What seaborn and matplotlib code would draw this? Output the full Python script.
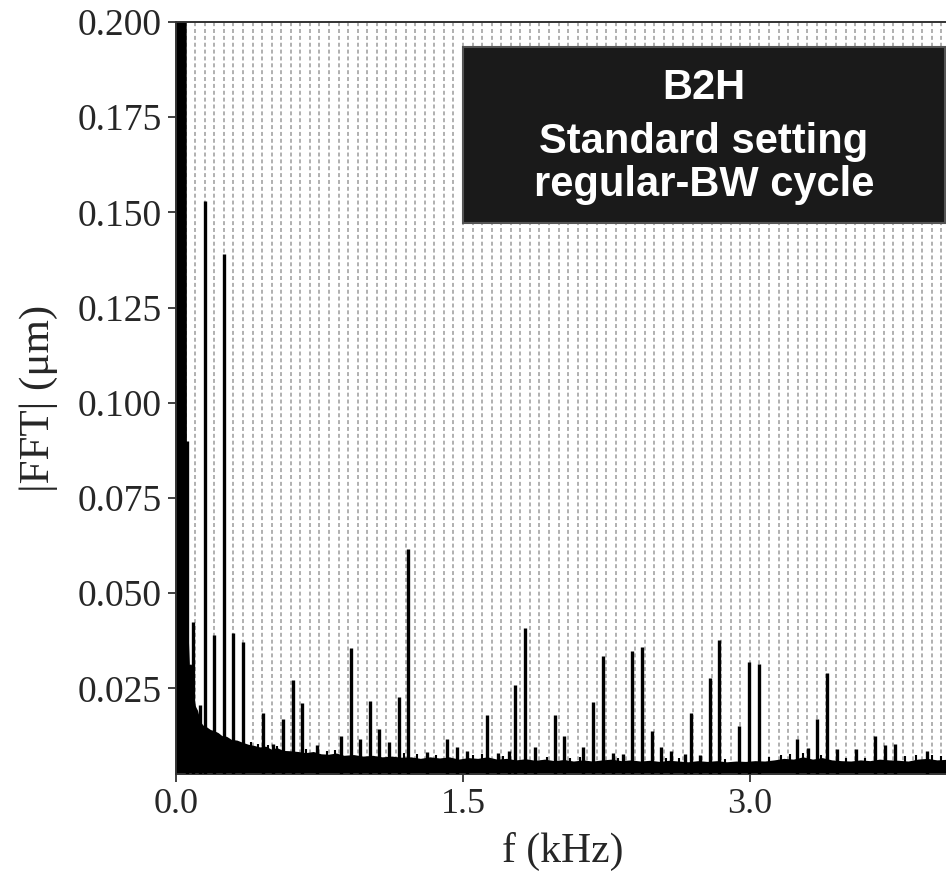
import numpy as np
import pandas as pd
import seaborn as sns
import matplotlib.pyplot as plt
from matplotlib.patches import Rectangle

# broadband floor of the spectrum (kHz, um)
floor_f = [0.000, 0.050, 0.052, 0.060, 0.068, 0.078, 0.090, 0.100, 0.110, 0.125,
           0.140, 0.160, 0.180, 0.200, 0.220, 0.240, 0.265, 0.290, 0.320, 0.350,
           0.380, 0.410, 0.440, 0.470, 0.500, 0.530, 0.560, 0.600, 0.640, 0.680,
           0.720, 0.760, 0.800, 0.840, 0.880, 0.930, 0.980, 1.030, 1.080, 1.130,
           1.180, 1.230, 1.280, 1.330, 1.380, 1.430, 1.480, 1.530, 1.580, 1.630,
           1.680, 1.730, 1.780, 1.830, 1.880, 1.930, 1.980, 2.030, 2.080, 2.130,
           2.180, 2.230, 2.280, 2.330, 2.380, 2.430, 2.480, 2.530, 2.580, 2.630,
           2.680, 2.730, 2.780, 2.830, 2.880, 2.930, 2.980, 3.030, 3.080, 3.130,
           3.180, 3.230, 3.280, 3.330, 3.380, 3.430, 3.480, 3.530, 3.580, 3.630,
           3.680, 3.730, 3.780, 3.830, 3.880, 3.930, 3.980, 4.050]
floor_amp = [0.250, 0.250, 0.046, 0.040, 0.030, 0.031, 0.022, 0.020, 0.019, 0.016,
             0.0150, 0.0145, 0.0138, 0.0135, 0.0130, 0.0122, 0.0120, 0.0112, 0.0110, 0.0104,
             0.0099, 0.0096, 0.0092, 0.0094, 0.0086, 0.0090, 0.0083, 0.0082, 0.0080, 0.0077,
             0.0080, 0.0074, 0.0073, 0.0076, 0.0070, 0.0072, 0.0068, 0.0070, 0.0066, 0.0068,
             0.0065, 0.0066, 0.0062, 0.0066, 0.0063, 0.0066, 0.0060, 0.0064, 0.0062, 0.0066,
             0.0060, 0.0062, 0.0058, 0.0061, 0.0057, 0.0060, 0.0056, 0.0059, 0.0055, 0.0058,
             0.0055, 0.0058, 0.0060, 0.0056, 0.0058, 0.0055, 0.0057, 0.0054, 0.0057, 0.0055,
             0.0053, 0.0056, 0.0054, 0.0056, 0.0053, 0.0055, 0.0054, 0.0056, 0.0055, 0.0058,
             0.0062, 0.0060, 0.0066, 0.0060, 0.0064, 0.0058, 0.0056, 0.0055, 0.0058, 0.0056,
             0.0060, 0.0058, 0.0057, 0.0055, 0.0060, 0.0062, 0.0058, 0.0060]

# harmonic peaks (kHz, um)
peak_f = [0.055, 0.087, 0.125, 0.152, 0.200, 0.252, 0.300, 0.352, 0.456, 0.505,
          0.558, 0.610, 0.657, 0.735, 0.862, 0.913, 0.962, 1.014, 1.063, 1.113,
          1.164, 1.214, 1.310, 1.418, 1.467, 1.520, 1.624, 1.682, 1.741, 1.772,
          1.824, 1.877, 1.981, 2.028, 2.129, 2.178, 2.230, 2.283, 2.338, 2.385,
          2.438, 2.487, 2.535, 2.586, 2.661, 2.690, 2.741, 2.791, 2.840, 2.944,
          2.995, 3.048, 3.248, 3.306, 3.349, 3.401, 3.454, 3.555, 3.654, 3.706,
          3.758, 3.924]
peak_amp = [0.0900, 0.0424, 0.0205, 0.1530, 0.0390, 0.1390, 0.0394, 0.0371, 0.0184, 0.0105,
            0.0170, 0.0273, 0.0211, 0.0100, 0.0126, 0.0357, 0.0118, 0.0216, 0.0142, 0.0109,
            0.0226, 0.0617, 0.0082, 0.0118, 0.0095, 0.0085, 0.0181, 0.0080, 0.0085, 0.0259,
            0.0408, 0.0095, 0.0179, 0.0126, 0.0095, 0.0215, 0.0336, 0.0080, 0.0077, 0.0347,
            0.0358, 0.0137, 0.0095, 0.0085, 0.0077, 0.0184, 0.0075, 0.0278, 0.0378, 0.0152,
            0.0319, 0.0315, 0.0118, 0.0092, 0.0170, 0.0290, 0.0090, 0.0090, 0.0126, 0.0100,
            0.0105, 0.0086]

# small ripples on top of the floor (kHz, um)
ripple_f = [0.39, 0.43, 0.48, 0.53, 0.68, 0.79, 0.83, 1.19, 1.26, 1.36, 1.55, 1.60,
            1.71, 1.94, 2.06, 2.11, 2.31, 2.56, 2.63, 2.87, 3.10, 3.16, 3.21, 3.28,
            3.37, 3.50, 3.60, 3.81, 3.87, 3.95, 4.00]
ripple_amp = [0.0110, 0.0105, 0.0100, 0.0098, 0.0090, 0.0085, 0.0088, 0.0080, 0.0078, 0.0076,
              0.0074, 0.0078, 0.0072, 0.0070, 0.0068, 0.0070, 0.0068, 0.0066, 0.0068, 0.0064,
              0.0070, 0.0074, 0.0078, 0.0080, 0.0076, 0.0068, 0.0066, 0.0072, 0.0074, 0.0076,
              0.0072]

x_ticks = [0.0, 1.5, 3.0]
y_ticks = [0.025, 0.050, 0.075, 0.100, 0.125, 0.150, 0.175, 0.200]
label_lines = ["B2H", "Standard setting", "regular-BW cycle"]

sns.set_theme(style="white")
plt.rcParams["font.family"] = ["Liberation Serif", "DejaVu Serif"]

fig = plt.figure(figsize=(9.46, 8.73), dpi=100)
W, H = 946, 873
ax = fig.add_axes([176 / W, (H - 774) / H, (950 - 176) / W, (774 - 22) / H])

floor = pd.DataFrame({"f": floor_f, "amp": floor_amp})
ax.fill_between(floor["f"], 0, floor["amp"], color="black", lw=0, zorder=2)
sns.lineplot(data=floor, x="f", y="amp", color="black", lw=1.5, ax=ax, zorder=2)
ax.vlines(ripple_f, 0, ripple_amp, color="black", lw=1.5, zorder=2)
ax.vlines(peak_f, 0, peak_amp, color="black", lw=2.4, zorder=3)

ax.set_xlim(0, (950 - 176) / 191.3)
ax.set_ylim(0.0025, 0.2)
ax.set_xticks(x_ticks)
ax.set_xticklabels([f"{v:.1f}" for v in x_ticks])
ax.set_yticks(y_ticks)
ax.set_yticklabels([f"{v:.3f}" for v in y_ticks])
ax.set_xticks(np.arange(0.05, 4.05, 0.05), minor=True)

ax.set_axisbelow(True)
ax.grid(which="both", axis="x", color="#aaaaaa", lw=1.3, ls=(0, (2.2, 1.6)))
ax.tick_params(which="major", direction="out", length=6, width=1.2,
               color="#222222", labelsize=26, pad=4, left=True, bottom=True)
ax.tick_params(axis="y", labelsize=27)
ax.tick_params(which="minor", length=0)
for s in ax.spines.values():
    s.set_color("#333333")
    s.set_linewidth(1.4)

ax.set_xlabel("f (kHz)", fontsize=30, labelpad=8)
ax.set_ylabel("|FFT| (μm)", fontsize=31, labelpad=14)

# black label box in the upper right
to_ax = lambda px, py: ((px - 176) / 774, (774 - py) / 752)
x0, y0 = to_ax(463, 223)
x1, y1 = to_ax(945, 47)
ax.add_patch(Rectangle((x0, y0), x1 - x0, y1 - y0, transform=ax.transAxes,
                       facecolor="#1a1a1a", edgecolor="#555555", lw=1.5, zorder=5))
for line, base in zip(label_lines, [99, 153, 196]):
    tx, ty = to_ax(704, base)
    ax.text(tx, ty, line, transform=ax.transAxes, ha="center", va="baseline",
            color="white", fontsize=30, fontweight="bold",
            family=["Liberation Sans", "DejaVu Sans"], zorder=6)

fig.savefig("out.png", dpi=100)
